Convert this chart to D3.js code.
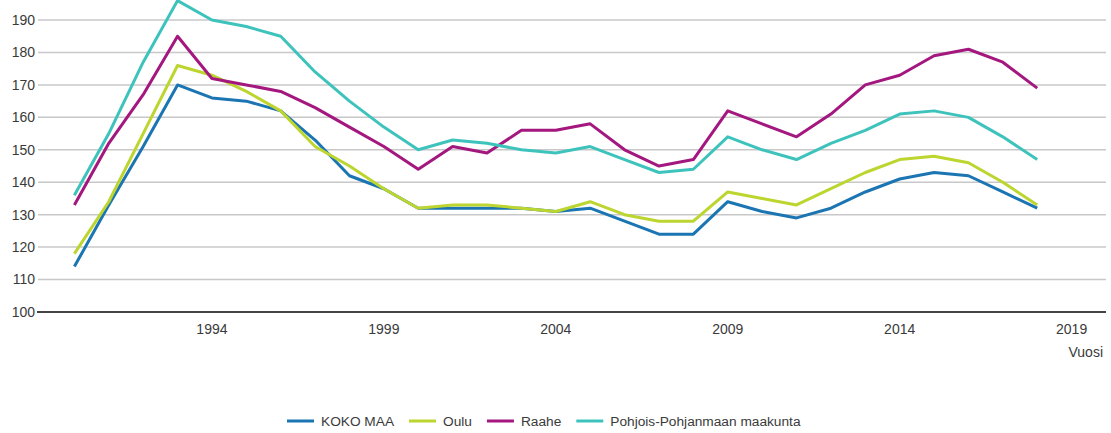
<!DOCTYPE html>
<html lang="fi">
  <head>
    <meta charset="UTF-8" />
    <title>Indeksi 1990-2018</title>
    <script src="https://d3js.org/d3.v7.min.js"></script>
    <style>
      body {
        margin: 0;
        background: #fff;
        font-family: "Liberation Sans", Arial, sans-serif;
      }
      .grid line {
        stroke: #c8c8c8;
        stroke-width: 1.5;
      }
      .tick-label {
        fill: #3a3a3a;
        font-size: 14px;
      }
    </style>
  </head>
  <body>
    <div id="chart"></div>

    <script>
      const years = d3.range(1990, 2019);
      const yTicks = [100, 110, 120, 130, 140, 150, 160, 170, 180, 190];
      const xTicks = [1994, 1999, 2004, 2009, 2014, 2019];
      const xAxisTitle = "Vuosi";

      const seriesNames = ["KOKO MAA", "Oulu", "Raahe", "Pohjois-Pohjanmaan maakunta"];
      const seriesColors = ["#1b75b3", "#bdd52f", "#a3177f", "#3ec3bc"];

      const kokoMaa = [114, 133, 151, 170, 166, 165, 162, 153, 142, 138, 132, 132, 132, 132, 131, 132, 128, 124, 124, 134, 131, 129, 132, 137, 141, 143, 142, 137, 132];
      const oulu = [118, 134, 155, 176, 173, 168, 162, 151, 145, 138, 132, 133, 133, 132, 131, 134, 130, 128, 128, 137, 135, 133, 138, 143, 147, 148, 146, 140, 133];
      const raahe = [133, 152, 167, 185, 172, 170, 168, 163, 157, 151, 144, 151, 149, 156, 156, 158, 150, 145, 147, 162, 158, 154, 161, 170, 173, 179, 181, 177, 169];
      const pohjois = [136, 155, 177, 196, 190, 188, 185, 174, 165, 157, 150, 153, 152, 150, 149, 151, 147, 143, 144, 154, 150, 147, 152, 156, 161, 162, 160, 154, 147];

      const allSeries = [kokoMaa, oulu, raahe, pohjois];

      const W = 1111, H = 433;
      const svg = d3.select("#chart").append("svg")
        .attr("width", W).attr("height", H);

      const x = d3.scaleLinear().domain([1989, 2020]).range([40, 1106]);
      const y = d3.scaleLinear().domain([100, 200]).range([312, -12.4]);

      // grid lines
      svg.append("g").attr("class", "grid")
        .selectAll("line")
        .data(yTicks.filter((d) => d > 100))
        .enter().append("line")
        .attr("x1", 38).attr("x2", 1106)
        .attr("y1", (d) => y(d)).attr("y2", (d) => y(d));

      // y labels
      svg.append("g")
        .selectAll("text")
        .data(yTicks)
        .enter().append("text")
        .attr("class", "tick-label")
        .attr("x", 35)
        .attr("y", (d) => y(d))
        .attr("dy", "0.35em")
        .attr("text-anchor", "end")
        .text((d) => d);

      // x labels
      svg.append("g")
        .selectAll("text")
        .data(xTicks)
        .enter().append("text")
        .attr("class", "tick-label")
        .attr("x", (d) => x(d))
        .attr("y", 334)
        .attr("text-anchor", "middle")
        .text((d) => d);

      svg.append("text")
        .attr("class", "tick-label")
        .attr("x", 1103)
        .attr("y", 357)
        .attr("text-anchor", "end")
        .text(xAxisTitle);

      // lines
      const line = d3.line()
        .x((d, i) => x(years[i]))
        .y((d) => y(d));

      svg.append("g")
        .selectAll("path")
        .data(allSeries)
        .enter().append("path")
        .attr("fill", "none")
        .attr("stroke", (d, i) => seriesColors[i])
        .attr("stroke-width", 3)
        .attr("stroke-linejoin", "round")
        .attr("d", line);

      // baseline
      svg.append("line")
        .attr("x1", 37).attr("x2", 1106)
        .attr("y1", y(100)).attr("y2", y(100))
        .attr("stroke", "#444")
        .attr("stroke-width", 2);

      // legend
      const legend = svg.append("g").attr("transform", "translate(0,421)");
      let lx = 287;
      seriesNames.forEach((name, i) => {
        legend.append("line")
          .attr("x1", lx).attr("x2", lx + 27)
          .attr("y1", 0).attr("y2", 0)
          .attr("stroke", seriesColors[i])
          .attr("stroke-width", 3);
        const t = legend.append("text")
          .attr("x", lx + 34)
          .attr("y", 0)
          .attr("dy", "0.35em")
          .attr("fill", "#3a3a3a")
          .style("font-size", "13.7px")
          .text(name);
        lx += 34 + t.node().getComputedTextLength() + 15;
      });
    </script>
  </body>
</html>
